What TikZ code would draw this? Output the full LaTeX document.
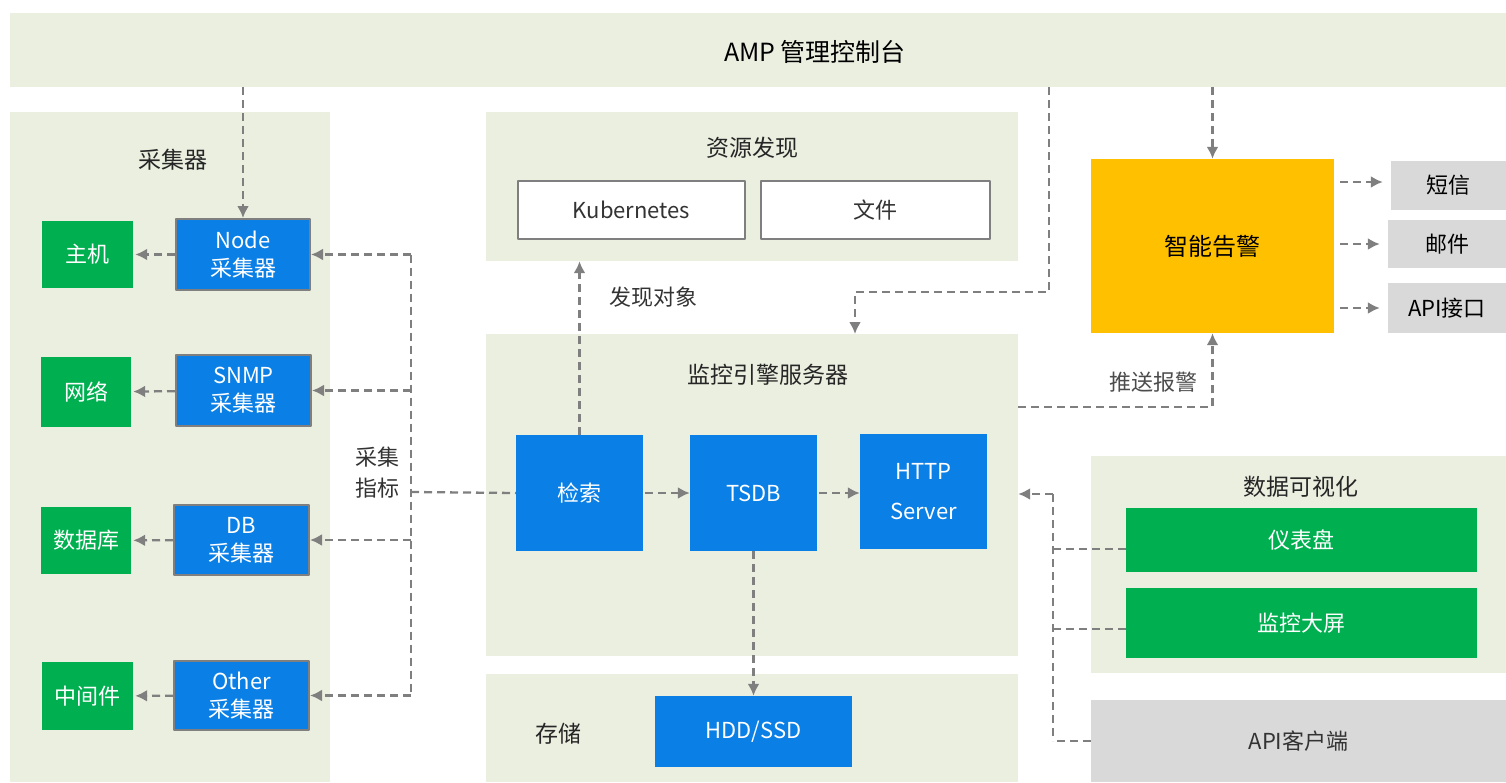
\documentclass[tikz,border=0pt]{standalone}
\usepackage{fontspec}
\usetikzlibrary{arrows.meta}
\newfontfamily\cjk{Noto Sans CJK SC}
\definecolor{panelcol}{HTML}{EBEFE0}
\definecolor{greencol}{HTML}{00B050}
\definecolor{bluecol}{HTML}{0A7FE6}
\definecolor{yellowcol}{HTML}{FFC000}
\definecolor{greycol}{HTML}{D9D9D9}
\definecolor{linecol}{HTML}{7F7F7F}

\begin{document}
\begin{tikzpicture}[x=1pt,y=-1pt,>={Latex[length=12pt,width=12pt]},line join=bevel,
  every node/.style={font=\cjk\fontsize{22}{28}\selectfont,inner sep=0pt,align=center},
  panel/.style={fill=panelcol,draw=none},
  paneltitle/.style={font=\cjk\fontsize{23}{28}\selectfont,text=black!85},
  greenbox/.style={fill=greencol,text=white},
  bluebox/.style={fill=bluecol,text=white},
  collbox/.style={fill=bluecol,text=white,draw=linecol,line width=2pt},
  filebox/.style={fill=white,draw=linecol,line width=2pt,text=black!80},
  greybox/.style={fill=greycol,text=black},
  dline/.style={draw=linecol,line width=2.3pt,dash pattern=on 8pt off 5pt},
  flow/.style={dline,->,linecol}]
\useasboundingbox (0,0) rectangle (1506,782);
%%
  % Node: amp
  \node[panel,minimum width=1496pt,minimum height=74pt] (amp) at (758,50) {};
  \node[font=\cjk\fontsize{25}{30}\selectfont] (amptext) at (815,52) {AMP 管理控制台};
  % Node: collector panel
  \node[panel,minimum width=320pt,minimum height=670pt] (coll) at (170,447) {};
  \node[paneltitle] (colltext) at (173,160) {采集器};
  % Node: targets
  \node[greenbox,minimum width=91pt,minimum height=67pt] (host) at (87.5,254.5) {主机};
  \node[greenbox,minimum width=90pt,minimum height=70pt] (net) at (86,392) {网络};
  \node[greenbox,minimum width=90pt,minimum height=67pt] (db) at (86,540.5) {数据库};
  \node[greenbox,minimum width=91pt,minimum height=68pt] (mid) at (87.5,696) {中间件};
  % Node: collectors
  \node[collbox,minimum width=134pt,minimum height=71pt] (nodec) at (243,254.5) {Node\\采集器};
  \node[collbox,minimum width=135pt,minimum height=71pt] (snmpc) at (243.5,390.5) {SNMP\\采集器};
  \node[collbox,minimum width=135pt,minimum height=70pt] (dbc) at (241.5,540) {DB\\采集器};
  \node[collbox,minimum width=135pt,minimum height=69pt] (otherc) at (241.5,695.5) {Other\\采集器};
  % Node: resource discovery
  \node[panel,minimum width=532pt,minimum height=149pt] (res) at (752,186.5) {};
  \node[paneltitle] (restext) at (752,148) {资源发现};
  \node[filebox,minimum width=227pt,minimum height=58pt] (k8s) at (631.5,210) {Kubernetes};
  \node[filebox,minimum width=229pt,minimum height=58pt] (file) at (875.5,210) {文件};
  % Node: engine
  \node[panel,minimum width=532pt,minimum height=322pt] (engine) at (752,495) {};
  \node[paneltitle] (enginetext) at (768,375) {监控引擎服务器};
  \node[bluebox,minimum width=127pt,minimum height=116pt] (search) at (579.5,493) {检索};
  \node[bluebox,minimum width=127pt,minimum height=116pt] (tsdb) at (753.5,493) {TSDB};
  \node[bluebox,minimum width=127pt,minimum height=115pt] (http) at (923.5,491.5) {HTTP\\[12pt]Server};
  % Node: storage
  \node[panel,minimum width=532pt,minimum height=108pt] (store) at (752,728) {};
  \node[paneltitle] (storetext) at (558,734) {存储};
  \node[bluebox,minimum width=197pt,minimum height=71pt] (hdd) at (753.5,731.5) {HDD/SSD};
  % Node: alert
  \node[fill=yellowcol,minimum width=243pt,minimum height=174pt,font=\cjk\fontsize{24}{28}\selectfont] (alert) at (1212.5,246) {智能告警};
  \node[greybox,minimum width=115pt,minimum height=49pt] (sms) at (1448.5,185.5) {短信};
  \node[greybox,minimum width=118pt,minimum height=48pt] (mail) at (1447,244) {邮件};
  \node[greybox,minimum width=118pt,minimum height=50pt] (api) at (1447,308) {API接口};
  % Node: visualisation
  \node[panel,minimum width=415pt,minimum height=217pt] (vis) at (1298.5,564.5) {};
  \node[paneltitle] (vistext) at (1301,487) {数据可视化};
  \node[greenbox,minimum width=351pt,minimum height=64pt] (dash) at (1301.5,540) {仪表盘};
  \node[greenbox,minimum width=351pt,minimum height=70pt] (screen) at (1301.5,623) {监控大屏};
  \node[greybox,minimum width=415pt,minimum height=82pt,text=black!80] (apicli) at (1298.5,741) {API客户端};
%%
  \coordinate (bus) at (411,492);
  \coordinate (ampc) at (1049,292);
  \coordinate (engin) at (855,334);
  \coordinate (push) at (1212.5,407);
  \coordinate (visbus) at (1053,494);
  % Edge: amp -> nodec
  \draw[flow] (amp.south -| nodec.north) -- (nodec.north);
  % Edge: collectors -> targets
  \draw[flow,shorten >=2pt] (nodec) -- (host);
  \draw[flow,shorten >=2pt] (snmpc) -- (net);
  \draw[flow,shorten >=2pt] (dbc) -- (db);
  \draw[flow,shorten >=2pt] (otherc) -- (mid);
  % Edge: search -> collectors
  \draw[dline] (nodec.east -| bus) -- (otherc.east -| bus);
  \draw[dline] (bus) -- (search.west);
  \draw[flow] (nodec.east -| bus) -- (nodec.east);
  \draw[flow] (snmpc.east -| bus) -- (snmpc.east);
  \draw[flow] (dbc.east -| bus) -- (dbc.east);
  \draw[flow] (otherc.east -| bus) -- (otherc.east);
  \node[text=black!80,font=\cjk\fontsize{22}{31}\selectfont] (busl) at (377,473) {采集\\指标};
  % Edge: search -> res
  \draw[flow] (search.north) -- (search.north |- res.south);
  \node[text=black!80] (discl) at (653,297) {发现对象};
  % Edge: search -> tsdb -> http
  \draw[flow,shorten <=2pt] (search) -- (tsdb);
  \draw[flow,shorten <=2pt] (tsdb.east) -- (http.west |- tsdb.east);
  % Edge: tsdb -> hdd
  \draw[flow] (tsdb.south) -- (hdd.north);
  % Edge: amp -> engine
  \draw[flow] (amp.south -| ampc) -- (ampc) -- (ampc -| engin) -- (engin);
  % Edge: amp -> alert
  \draw[flow] (amp.south -| alert.north) -- (alert.north);
  % Edge: alert -> outputs
  \draw[flow,shorten <=6pt,shorten >=8pt] (alert.east |- 0,182) -- (sms.west |- 0,182);
  \draw[flow,shorten <=6pt,shorten >=8pt] (alert.east |- mail) -- (mail);
  \draw[flow,shorten <=6pt,shorten >=8pt] (alert.east |- api) -- (api);
  % Edge: engine -> alert
  \draw[flow] (push -| engine.east) -- (push) -- (alert.south);
  \node[text=black!70] (pushl) at (1153,382) {推送报警};
  % Edge: vis -> http
  \draw[dline] (visbus) -- (visbus |- apicli);
  \draw[flow] (visbus) -- (visbus -| engine.east);
  \draw[dline] (dash.west |- 0,549) -- (visbus |- 0,549);
  \draw[dline] (screen.west |- 0,629) -- (visbus |- 0,629);
  \draw[dline] (apicli.west) -- (visbus |- apicli);
%
\end{tikzpicture}
\end{document}
